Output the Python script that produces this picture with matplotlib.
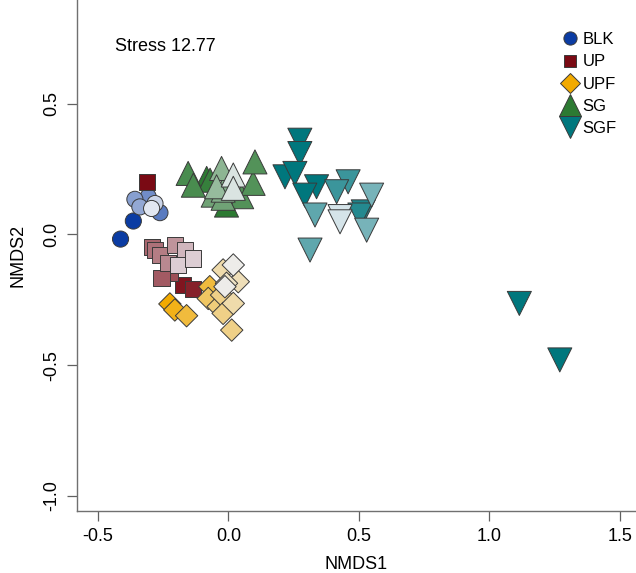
import matplotlib.pyplot as plt
import matplotlib.colors as mcolors
from matplotlib.lines import Line2D
import numpy as np

plt.rcParams['font.family'] = ['Liberation Sans', 'DejaVu Sans']

GROUPS = ["BLK", "UP", "UPF", "SG", "SGF"]
BASE_COLORS = {"BLK": "#0b3ca3", "UP": "#7a0a14", "UPF": "#f2aa00",
               "SG": "#2c7a32", "SGF": "#00777d"}
MARKERS = {"BLK": "o", "UP": "s", "UPF": "D", "SG": "^", "SGF": "v"}
SIZES = {"BLK": 135, "UP": 135, "UPF": 130, "SG": 300, "SGF": 300}
LEGEND_MS = {"BLK": 9.5, "UP": 8.5, "UPF": 10.5, "SG": 16, "SGF": 16}

# NMDS scores; shade = 0 darkest .. 1 lightest
blk_x = [-0.413, -0.364, -0.358, -0.307, -0.339, -0.281, -0.294, -0.262]
blk_y = [-0.018, 0.051, 0.134, 0.144, 0.105, 0.118, 0.099, 0.083]
blk_shade = [0.0, 0.0, 0.55, 0.45, 0.6, 0.85, 0.95, 0.35]

up_x = [-0.313, -0.281, -0.205, -0.262, -0.294, -0.230, -0.166, -0.224,
        -0.256, -0.192, -0.134, -0.173, -0.134]
up_y = [0.201, -0.060, -0.041, -0.079, -0.047, -0.111, -0.060, -0.149,
        -0.168, -0.117, -0.092, -0.194, -0.210]
up_shade = [0.0, 0.45, 0.6, 0.5, 0.4, 0.55, 0.75, 0.3, 0.35, 0.85, 0.85,
            0.05, 0.1]

upf_x = [-0.224, -0.205, -0.160, -0.071, -0.077, -0.026, -0.039, -0.020,
         0.013, 0.019, -0.020, 0.038, -0.007, 0.019, -0.013]
upf_y = [-0.266, -0.289, -0.311, -0.200, -0.245, -0.232, -0.276, -0.302,
         -0.366, -0.264, -0.136, -0.181, -0.187, -0.117, -0.200]
upf_shade = [0.0, 0.1, 0.25, 0.25, 0.4, 0.55, 0.5, 0.55, 0.55, 0.7, 0.7,
             0.75, 0.8, 0.95, 0.95]

sg_x = [-0.154, -0.134, -0.083, -0.070, -0.058, -0.007, -0.020, -0.045,
        -0.026, 0.051, 0.095, 0.102, -0.020, 0.019, 0.019]
sg_y = [0.233, 0.188, 0.214, 0.207, 0.150, 0.112, 0.138, 0.182, 0.252,
        0.144, 0.195, 0.277, 0.169, 0.227, 0.176]
sg_shade = [0.15, 0.15, 0.0, 0.05, 0.35, 0.0, 0.35, 0.55, 0.5, 0.2, 0.2,
            0.2, 0.45, 0.9, 0.9]

sgf_x = [0.274, 0.274, 0.217, 0.255, 0.338, 0.293, 0.459, 0.415, 0.549,
         0.332, 0.428, 0.428, 0.517, 0.504, 0.530, 0.313, 1.115, 1.270]
sgf_y = [0.360, 0.309, 0.220, 0.233, 0.182, 0.150, 0.201, 0.163, 0.150,
         0.074, 0.068, 0.048, 0.086, 0.074, 0.016, -0.060, -0.264, -0.480]
sgf_shade = [0.0, 0.0, 0.0, 0.0, 0.0, 0.0, 0.25, 0.25, 0.5, 0.4, 0.9,
             0.9, 0.12, 0.15, 0.5, 0.4, 0.0, 0.0]

data = {
    "BLK": (blk_x, blk_y, blk_shade),
    "UP": (up_x, up_y, up_shade),
    "UPF": (upf_x, upf_y, upf_shade),
    "SG": (sg_x, sg_y, sg_shade),
    "SGF": (sgf_x, sgf_y, sgf_shade),
}


def shade_colors(base, shades):
    rgb = np.array(mcolors.to_rgb(base))
    light = np.array([0.93, 0.94, 0.96])
    return [tuple(rgb + (light - rgb) * s) for s in shades]


fig = plt.figure(figsize=(6.36, 5.73), dpi=100)
ax = fig.add_axes([0.121, 0.108, 0.879, 0.892])

for g in GROUPS:
    x, y, sh = data[g]
    # lighter points drawn last, as in the original
    order = np.argsort(sh, kind="stable")
    cols = shade_colors(BASE_COLORS[g], sh)
    ax.scatter(np.array(x)[order], np.array(y)[order], s=SIZES[g],
               marker=MARKERS[g], c=[cols[i] for i in order],
               edgecolors="#3a3a3a", linewidths=0.7, zorder=3)

ax.set_xlim(-0.58, 1.562)
ax.set_ylim(-1.058, 0.896)
ax.set_xticks([-0.5, 0.0, 0.5, 1.0, 1.5])
ax.set_yticks([-1.0, -0.5, 0.0, 0.5])
ax.set_xticklabels(["-0.5", "0.0", "0.5", "1.0", "1.5"])
ax.set_yticklabels(["-1.0", "-0.5", "0.0", "0.5"], rotation=90, va="center")
ax.tick_params(axis="both", length=7, width=0.9, color="#606060",
               labelsize=13, direction="out")
ax.tick_params(axis="x", pad=5)
ax.tick_params(axis="y", pad=5)
for side in ["top", "right"]:
    ax.spines[side].set_visible(False)
for side in ["left", "bottom"]:
    ax.spines[side].set_color("#707070")
    ax.spines[side].set_linewidth(1.0)

ax.set_xlabel("NMDS1", fontsize=13, labelpad=8)
ax.set_ylabel("NMDS2", fontsize=13, labelpad=12)

ax.text(0.068, 0.909, "Stress 12.77", transform=ax.transAxes,
        fontsize=13, ha="left", va="center")

handles = [Line2D([], [], linestyle="none", marker=MARKERS[g],
                  markersize=LEGEND_MS[g], markerfacecolor=BASE_COLORS[g],
                  markeredgecolor="#3a3a3a", markeredgewidth=0.7)
           for g in GROUPS]
ax.legend(handles, GROUPS, loc="upper left", bbox_to_anchor=(0.852, 0.95),
          frameon=False, fontsize=12, handletextpad=0.15, handlelength=1.2,
          labelspacing=0.43, borderaxespad=0.0)

fig.savefig("out.png", dpi=100)
